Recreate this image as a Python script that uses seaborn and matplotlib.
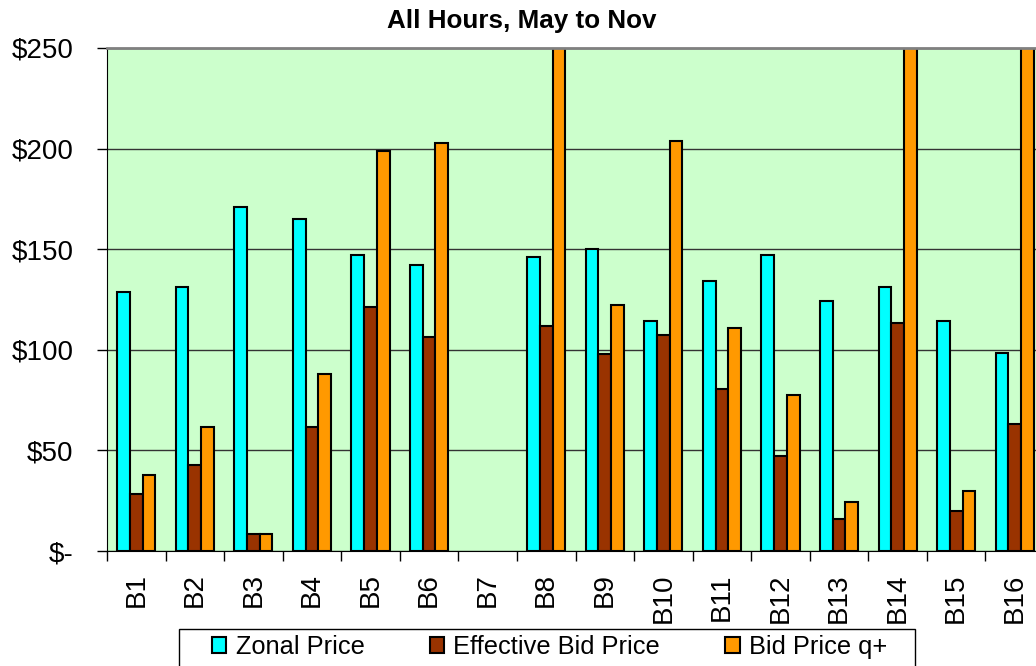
import numpy as np
import pandas as pd
import matplotlib
matplotlib.use('Agg')
import matplotlib.pyplot as plt
from matplotlib.patches import Patch, Rectangle
import seaborn as sns

# values ($), B7 has no bars, bid q+ for B8/B14/B16 goes off the top
buses = ['B1', 'B2', 'B3', 'B4', 'B5', 'B6', 'B7', 'B8',
         'B9', 'B10', 'B11', 'B12', 'B13', 'B14', 'B15', 'B16']
zonal_price = [128.6, 131.4, 171.1, 165.0, 147.1, 142.1, np.nan, 146.1,
               150.1, 114.3, 134.2, 147.1, 124.4, 131.4, 114.5, 98.6]
effective_bid = [28.2, 42.9, 8.3, 61.6, 121.4, 106.5, np.nan, 111.7,
                 97.8, 107.6, 80.5, 47.1, 16.1, 113.5, 20.0, 63.0]
bid_q_plus = [37.8, 61.6, 8.3, 87.8, 199.0, 202.8, np.nan, 300.0,
              122.4, 203.9, 110.7, 77.5, 24.2, 300.0, 29.8, 300.0]
series_names = ['Zonal Price', 'Effective Bid Price', 'Bid Price q+']
y_ticks = [0, 50, 100, 150, 200, 250]
y_labels = ['$-', '$50', '$100', '$150', '$200', '$250']

colors = {'Zonal Price': '#00FFFF', 'Effective Bid Price': '#993300', 'Bid Price q+': '#FF9900'}

df = pd.DataFrame({
    'Bus': buses * 3,
    'Price': zonal_price + effective_bid + bid_q_plus,
    'Series': [s for s in series_names for _ in buses],
})

plt.rcParams['font.family'] = ['Liberation Sans', 'DejaVu Sans']

fig = plt.figure(figsize=(10.36, 6.66), dpi=100)
ax = fig.add_axes([107 / 1036, 115 / 666, 937 / 1036, 503 / 666])
ax.set_facecolor('#CCFFCC')

sns.barplot(data=df, x='Bus', y='Price', hue='Series', order=buses, hue_order=series_names,
            palette=colors, saturation=1, width=0.65, edgecolor='black', linewidth=1.5,
            errorbar=None, legend=False, ax=ax)

ax.set_xlim(-0.5, len(buses) - 0.5)
ax.set_ylim(0, 250)
ax.set_xlabel('')
ax.set_ylabel('')

ax.set_yticks(y_ticks)
ax.set_yticklabels(y_labels)
ax.yaxis.grid(True, color='#333333', linewidth=1)
ax.set_axisbelow(True)
ax.tick_params(axis='y', direction='out', length=7.2, width=1, pad=17, labelsize=20)

# labels at bar groups, tick marks between groups
ax.set_xticks(range(len(buses)))
ax.set_xticklabels(buses, rotation=90, va='top')
ax.set_xticks(np.arange(-0.5, len(buses)), minor=True)
ax.tick_params(axis='x', which='major', length=0, pad=16, labelsize=20)
ax.tick_params(axis='x', which='minor', direction='out', length=7.2, width=1)

ax.spines['top'].set_color('#808080')
ax.spines['top'].set_linewidth(2)
ax.spines['right'].set_visible(False)
ax.spines['left'].set_color('black')
ax.spines['bottom'].set_color('black')

fig.text(522 / 1036, 1 - 21 / 666, 'All Hours, May to Nov', ha='center', va='center',
         fontsize=18.7, fontweight='bold')

handles = [Patch(facecolor=colors[s], edgecolor='black', linewidth=1.5) for s in series_names]
leg = fig.legend(handles, series_names, loc='center left',
                 bbox_to_anchor=(212 / 1036, 1 - 647 / 666), bbox_transform=fig.transFigure,
                 ncol=3, frameon=False, fontsize=18.3, borderpad=0, borderaxespad=0,
                 handlelength=0.57, handleheight=0.57, handletextpad=0.37, columnspacing=2.55)
fig.patches.append(Rectangle((179 / 1036, -0.1), 736 / 1036, 0.1 + 1 - 629 / 666,
                             transform=fig.transFigure, fill=False, edgecolor='black', linewidth=1))

fig.savefig('out.png', dpi=100)
